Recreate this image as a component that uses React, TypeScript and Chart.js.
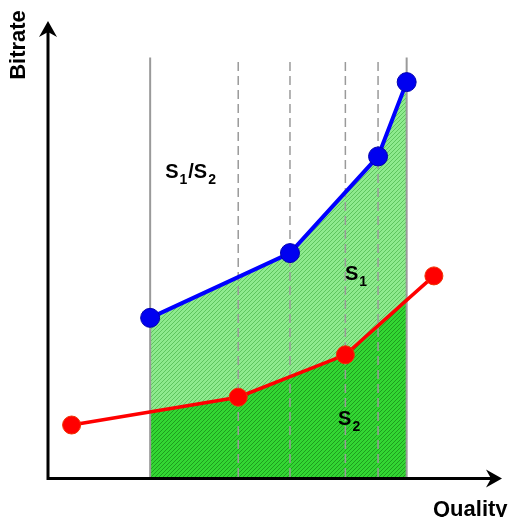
import React, { useEffect, useRef } from "react";
import { Chart, registerables } from "chart.js";

Chart.register(...registerables);

// Quality (x) / Bitrate (y) in arbitrary 0..100 units
const blueX = [22.5, 53.3, 72.7, 79.0];
const blueY = [34.9, 49.1, 70.3, 86.6];
const redX = [5.2, 41.9, 65.5, 85.0];
const redY = [11.4, 17.5, 26.8, 44.1];
const guideTop = 92;
const axisTitles = ["Bitrate", "Quality"];
const regionLabels = [
  { parts: [["S", "1"], ["/S", "2"]], x: 25.8, y: 65.6 },
  { parts: [["S", "1"]], x: 65.4, y: 43.2 },
  { parts: [["S", "2"]], x: 63.9, y: 11.4 },
];

function interp(xs: number[], ys: number[], x: number): number {
  if (x <= xs[0]) return ys[0];
  for (let i = 0; i < xs.length - 1; i++) {
    if (x >= xs[i] && x <= xs[i + 1]) {
      const t = (x - xs[i]) / (xs[i + 1] - xs[i]);
      return ys[i] + t * (ys[i + 1] - ys[i]);
    }
  }
  return ys[ys.length - 1];
}

function makePattern(base: string, line: string): CanvasPattern | string {
  const c = document.createElement("canvas");
  c.width = 4;
  c.height = 4;
  const g = c.getContext("2d");
  if (!g) return base;
  g.fillStyle = base;
  g.fillRect(0, 0, 4, 4);
  g.fillStyle = line;
  for (let y = 0; y < 4; y++) {
    const x = (3 - y + 4) % 4;
    g.fillRect(x, y, 1, 1);
  }
  return g.createPattern(c, "repeat") || base;
}

const FONT = '"Liberation Sans", Arial, Helvetica, sans-serif';

export default function App() {
  const ref = useRef<HTMLCanvasElement | null>(null);

  useEffect(() => {
    if (!ref.current) return;
    const lo = blueX[0];
    const hi = blueX[blueX.length - 1];
    const guides = Array.from(
      new Set([...blueX, ...redX.filter((x) => x >= lo && x <= hi)])
    ).sort((a, b) => a - b);

    const lightPat = makePattern("#8eea8e", "#5ec45e");
    const darkPat = makePattern("#33d633", "#1e9e1e");

    const guideSets = guides.map((gx, i) => ({
      data: [
        { x: gx, y: 0 },
        { x: gx, y: guideTop },
      ],
      borderColor: "#9a9a9a",
      borderWidth: i === 0 || i === guides.length - 1 ? 2 : 1.5,
      borderDash: i === 0 || i === guides.length - 1 ? [] : [9, 5],
      pointRadius: 0,
      fill: false,
    }));

    const datasets: any[] = [
      {
        data: blueX.map((x, i) => ({ x, y: blueY[i] })),
        borderColor: "#0000ff",
        borderWidth: 4,
        pointRadius: 9.5,
        pointBackgroundColor: "#0000f0",
        pointBorderColor: "#0000b0",
        pointBorderWidth: 1,
        fill: false,
      },
      {
        data: redX.map((x, i) => ({ x, y: redY[i] })),
        borderColor: "#ff0000",
        borderWidth: 3.5,
        pointRadius: 9,
        pointBackgroundColor: "#ff0000",
        pointBorderColor: "#f03000",
        pointBorderWidth: 1,
        fill: false,
      },
      ...guideSets,
      {
        data: guides.map((x) => ({ x, y: interp(blueX, blueY, x) })),
        borderWidth: 0,
        borderColor: "rgba(0,0,0,0)",
        pointRadius: 0,
        backgroundColor: lightPat,
        fill: "+1",
      },
      {
        data: guides.map((x) => ({ x, y: interp(redX, redY, x) })),
        borderWidth: 0,
        borderColor: "rgba(0,0,0,0)",
        pointRadius: 0,
        backgroundColor: darkPat,
        fill: "origin",
      },
    ];

    const decor = {
      id: "decor",
      afterDraw(chart: any) {
        const ctx = chart.ctx;
        const { left, right, top, bottom } = chart.chartArea;
        const xs = chart.scales.x;
        const ys = chart.scales.y;
        ctx.save();
        ctx.strokeStyle = "#000";
        ctx.fillStyle = "#000";
        ctx.lineWidth = 3;
        ctx.beginPath();
        ctx.moveTo(left, top + 8);
        ctx.lineTo(left, bottom + 1.5);
        ctx.lineTo(right - 8, bottom + 1.5);
        ctx.stroke();
        // y arrow
        ctx.beginPath();
        ctx.moveTo(left, top);
        ctx.lineTo(left - 9, top + 16);
        ctx.lineTo(left, top + 11);
        ctx.lineTo(left + 9, top + 16);
        ctx.closePath();
        ctx.fill();
        // x arrow
        const by = bottom + 1.5;
        ctx.beginPath();
        ctx.moveTo(right, by);
        ctx.lineTo(right - 16, by - 9);
        ctx.lineTo(right - 11, by);
        ctx.lineTo(right - 16, by + 9);
        ctx.closePath();
        ctx.fill();

        // axis titles
        ctx.font = `bold 22px ${FONT}`;
        ctx.textBaseline = "alphabetic";
        ctx.save();
        ctx.translate(25, 45);
        ctx.rotate(-Math.PI / 2);
        ctx.textAlign = "center";
        ctx.fillText(axisTitles[0], 0, 0);
        ctx.restore();
        ctx.textAlign = "left";
        ctx.fillText(axisTitles[1], 433, 516);

        // region labels
        for (const lab of regionLabels) {
          let px = xs.getPixelForValue(lab.x);
          const py = ys.getPixelForValue(lab.y);
          for (const [main, sub] of lab.parts) {
            ctx.font = `bold 20px ${FONT}`;
            ctx.fillText(main, px, py);
            px += ctx.measureText(main).width + 1;
            ctx.font = `bold 14px ${FONT}`;
            ctx.fillText(sub, px, py + 6);
            px += ctx.measureText(sub).width + 1;
          }
        }
        ctx.restore();
      },
    };

    const chart = new Chart(ref.current, {
      type: "line",
      data: { datasets },
      options: {
        animation: false,
        responsive: false,
        maintainAspectRatio: false,
        layout: { autoPadding: false, padding: { left: 48, right: 7, top: 21, bottom: 40 } },
        plugins: { legend: { display: false }, tooltip: { enabled: false } },
        elements: { line: { tension: 0 } },
        scales: {
          x: { type: "linear", min: 0, max: 100, display: false },
          y: { type: "linear", min: 0, max: 100, display: false },
        },
      },
      plugins: [decor],
    } as any);
    return () => chart.destroy();
  }, []);

  return (
    <div style={{ position: "fixed", left: 0, top: 0, width: 509, height: 517, background: "#fff" }}>
      <canvas ref={ref} width={509} height={517} style={{ width: 509, height: 517, display: "block" }} />
    </div>
  );
}
